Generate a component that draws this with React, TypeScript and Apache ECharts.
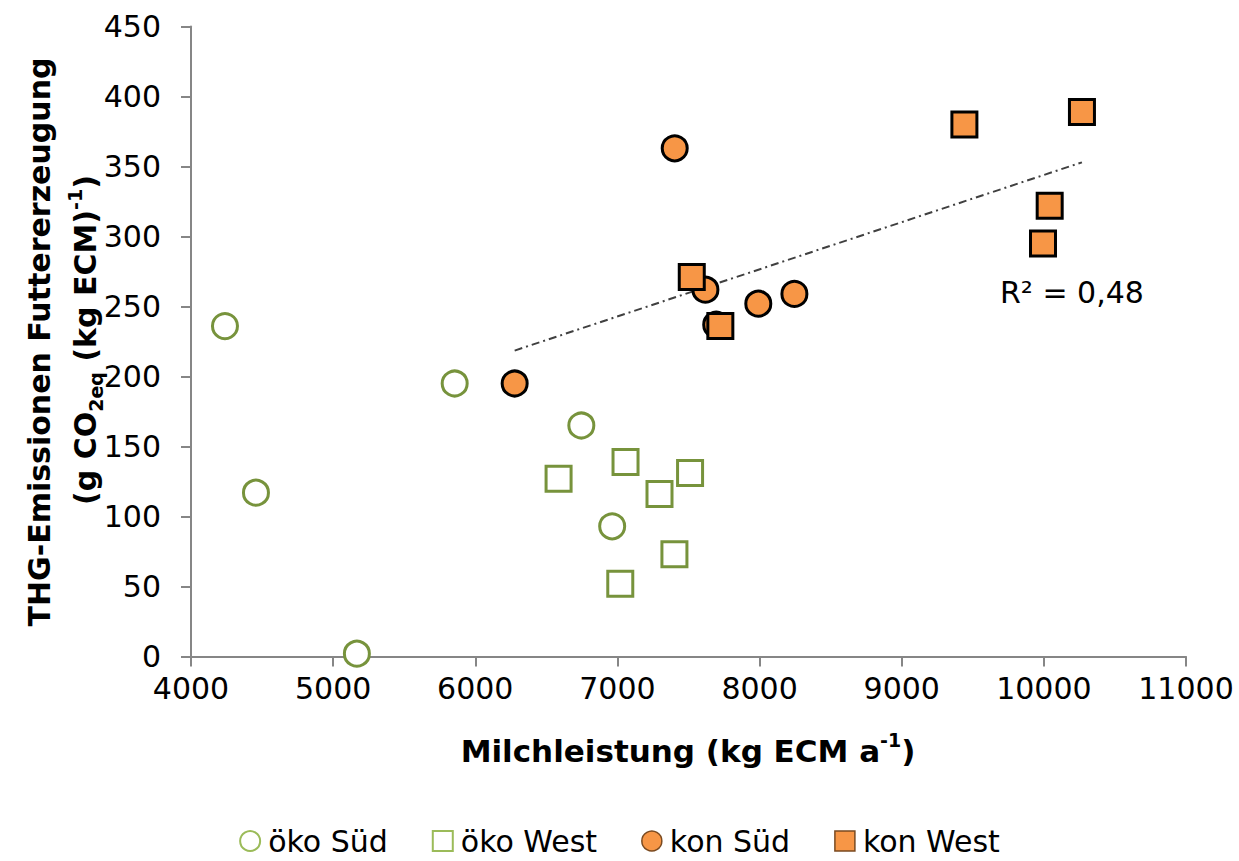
import React, { useEffect, useRef } from "react";
import * as echarts from "echarts";

// Milchleistung (kg ECM a-1) and THG-Emissionen (g CO2eq (kg ECM)-1)
const okoSuedX = [4239, 4457, 5167, 5855, 6746, 6963];
const okoSuedY = [236, 117, 2, 195, 165, 93];
const okoWestX = [6586, 7057, 7511, 7296, 7401, 7020];
const okoWestY = [127, 139, 131, 116, 73, 52];
const konSuedX = [6277, 7403, 7619, 7991, 8245, 7695];
const konSuedY = [195, 363, 262, 252, 259, 237];
const konWestX = [7523, 7724, 9441, 10268, 10041, 9994];
const konWestY = [271, 236, 380, 389, 322, 295];

const seriesNames = ["öko Süd", "öko West", "kon Süd", "kon West"];
const xTicks = { min: 4000, max: 11000, interval: 1000 };
const yTicks = { min: 0, max: 450, interval: 50 };
const r2Label = "R² = 0,48";

const GREEN = "#77933C";
const ORANGE = "#F79646";
const FONT = "DejaVu Sans";

function zip(xs: number[], ys: number[]) {
  return xs.map((x, i) => [x, ys[i]]);
}

function regression(xs: number[], ys: number[]) {
  const n = xs.length;
  const mx = xs.reduce((a, b) => a + b, 0) / n;
  const my = ys.reduce((a, b) => a + b, 0) / n;
  let sxy = 0, sxx = 0;
  for (let i = 0; i < n; i++) {
    sxy += (xs[i] - mx) * (ys[i] - my);
    sxx += (xs[i] - mx) ** 2;
  }
  const slope = sxy / sxx;
  const intercept = my - slope * mx;
  return { slope, intercept };
}

export default function App() {
  const ref = useRef<HTMLDivElement>(null);

  useEffect(() => {
    document.body.style.margin = "0";
    if (!ref.current) return;
    const chart = echarts.init(ref.current, null, { renderer: "svg" });

    const konX = [...konSuedX, ...konWestX];
    const konY = [...konSuedY, ...konWestY];
    const reg = regression(konX, konY);
    const xmin = Math.min(...konX);
    const xmax = Math.max(...konX);
    const trend = [
      [xmin, reg.intercept + reg.slope * xmin],
      [xmax, reg.intercept + reg.slope * xmax],
    ];

    const axisCommon = {
      axisLine: { show: true, lineStyle: { color: "#868686", width: 2 } },
      axisTick: { show: true, inside: false, length: 10, lineStyle: { color: "#868686", width: 2 } },
      splitLine: { show: false },
    };

    chart.setOption({
      animation: false,
      backgroundColor: "#fff",
      grid: { left: 191, right: 53, top: 26.5, bottom: 204.5, containLabel: false },
      xAxis: {
        type: "value",
        ...xTicks,
        ...axisCommon,
        axisLabel: {
          fontSize: 30,
          fontFamily: FONT,
          color: "#000",
          margin: 17,
          formatter: (v: number) => String(v),
        },
      },
      yAxis: {
        type: "value",
        ...yTicks,
        ...axisCommon,
        axisLabel: {
          fontSize: 30,
          fontFamily: FONT,
          color: "#000",
          margin: 30,
          formatter: (v: number) => String(v),
        },
      },
      legend: {
        left: "center",
        top: 826,
        itemWidth: 20,
        itemHeight: 20,
        itemGap: 44,
        padding: 0,
        textStyle: { fontSize: 30, lineHeight: 30, fontFamily: FONT, color: "#000", padding: [0, 0, 0, 3] },
        data: [
          { name: seriesNames[0], icon: "circle", itemStyle: { color: "#fff", borderColor: "#9BBB59", borderWidth: 2 } },
          { name: seriesNames[1], icon: "rect", itemStyle: { color: "#fff", borderColor: "#9BBB59", borderWidth: 2 } },
          { name: seriesNames[2], icon: "circle", itemStyle: { color: ORANGE, borderColor: "#7a4a20", borderWidth: 1.5 } },
          { name: seriesNames[3], icon: "rect", itemStyle: { color: ORANGE, borderColor: "#7a4a20", borderWidth: 1.5 } },
        ],
      },
      series: [
        {
          name: "trend",
          type: "line",
          data: trend,
          symbol: "none",
          silent: true,
          z: 1,
          lineStyle: { color: "#404040", width: 2, type: [8, 4, 2, 4] },
        },
        {
          name: seriesNames[0],
          type: "scatter",
          symbol: "circle",
          symbolSize: 25,
          data: zip(okoSuedX, okoSuedY),
          itemStyle: { color: "#fff", borderColor: GREEN, borderWidth: 3, opacity: 1 },
          z: 2,
        },
        {
          name: seriesNames[1],
          type: "scatter",
          symbol: "rect",
          symbolSize: 25,
          data: zip(okoWestX, okoWestY),
          itemStyle: { color: "#fff", borderColor: GREEN, borderWidth: 3, opacity: 1 },
          z: 3,
        },
        {
          name: seriesNames[2],
          type: "scatter",
          symbol: "circle",
          symbolSize: 25,
          data: zip(konSuedX, konSuedY),
          itemStyle: { color: ORANGE, borderColor: "#000", borderWidth: 3, opacity: 1 },
          z: 4,
        },
        {
          name: seriesNames[3],
          type: "scatter",
          symbol: "rect",
          symbolSize: 25,
          data: zip(konWestX, konWestY),
          itemStyle: { color: ORANGE, borderColor: "#000", borderWidth: 3, opacity: 1 },
          z: 5,
        },
      ],
      graphic: [
        {
          type: "text",
          x: 688,
          y: 748,
          style: {
            text: "{b|Milchleistung (kg ECM a}{sup|-1}{b|)}",
            align: "center",
            verticalAlign: "middle",
            fill: "#000",
            rich: {
              b: { fontSize: 31, fontWeight: "bold", fontFamily: FONT, lineHeight: 36, verticalAlign: "bottom" },
              sup: { fontSize: 19, fontWeight: "bold", fontFamily: FONT, lineHeight: 36, verticalAlign: "top" },
            },
          },
        },
        {
          type: "text",
          x: 39,
          y: 342,
          rotation: Math.PI / 2,
          style: {
            text: "{b|THG-Emissionen Futtererzeugung}",
            align: "center",
            verticalAlign: "middle",
            fill: "#000",
            rich: {
              b: { fontSize: 30, fontWeight: "bold", fontFamily: FONT, lineHeight: 36 },
            },
          },
        },
        {
          type: "text",
          x: 85,
          y: 340,
          rotation: Math.PI / 2,
          style: {
            text: "{b|(g CO}{sub|2eq}{b| (kg ECM)}{sup|-1}{b|)}",
            align: "center",
            verticalAlign: "middle",
            fill: "#000",
            rich: {
              b: { fontSize: 30, fontWeight: "bold", fontFamily: FONT, lineHeight: 40 },
              sub: { fontSize: 19, fontWeight: "bold", fontFamily: FONT, lineHeight: 22, verticalAlign: "bottom" },
              sup: { fontSize: 19, fontWeight: "bold", fontFamily: FONT, lineHeight: 22, verticalAlign: "top" },
            },
          },
        },
        {
          type: "text",
          x: 1000,
          y: 292,
          style: {
            text: r2Label,
            align: "left",
            verticalAlign: "middle",
            fill: "#000",
            fontSize: 30,
            fontFamily: FONT,
          },
        },
      ],
    });

    return () => chart.dispose();
  }, []);

  return <div ref={ref} style={{ width: 1239, height: 861 }} />;
}
